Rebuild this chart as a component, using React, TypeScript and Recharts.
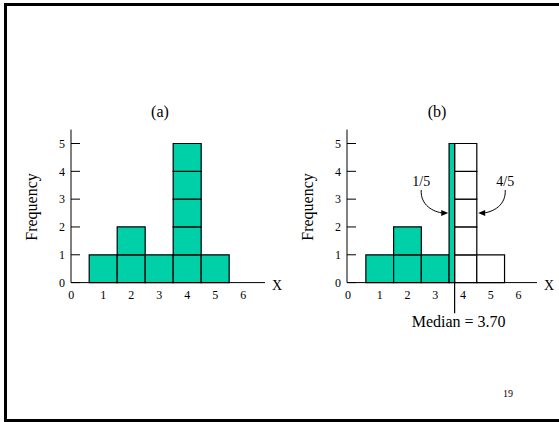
import React from 'react';
import { ComposedChart, XAxis, YAxis, ReferenceArea, ReferenceLine, ReferenceDot } from 'recharts';

const FONT = '"Liberation Serif", "Times New Roman", Times, serif';
const GREEN = '#00d0a8';

// (a) frequency histogram: class edges and counts
const binsA = [0.5, 1.5, 2.5, 3.5, 4.5, 5.5];
const countsA = [1, 2, 1, 5, 1];
const shadedA = [true, true, true, true, true];

// (b) same data, median class split at the median
const binsB = [0.5, 1.5, 2.5, 3.5, 3.7, 4.5, 5.5];
const countsB = [1, 2, 1, 5, 5, 1];
const shadedB = [true, true, true, true, false, false];

const xTicks = [0, 1, 2, 3, 4, 5, 6];
const yTicks = [0, 1, 2, 3, 4, 5];
const median = 3.7;
const medianText = 'Median = 3.70';
const splitLabels = ['1/5', '4/5'];

type Cell = { x1: number; x2: number; y1: number; y2: number; fill: string };

// every class becomes a stack of unit squares (thin slivers stay one block)
const buildCells = (edges: number[], counts: number[], shaded: boolean[]): Cell[] => {
  const out: Cell[] = [];
  counts.forEach((c, i) => {
    const x1 = edges[i];
    const x2 = edges[i + 1];
    const fill = shaded[i] ? GREEN : '#fff';
    if (x2 - x1 < 0.5) {
      out.push({ x1, x2, y1: 0, y2: c, fill });
    } else {
      for (let k = 0; k < c; k++) out.push({ x1, x2, y1: k, y2: k + 1, fill });
    }
  });
  return out;
};

const cellsA = buildCells(binsA, countsA, shadedA);
const cellsB = buildCells(binsB, countsB, shadedB);

const XTick = (props: any) => {
  const { x, y, payload } = props;
  // the zero sits a little left, at the corner
  const nx = payload.value === 0 ? x - 4 : x;
  return (
    <text x={nx} y={y} dy="0.71em" textAnchor="middle" fontSize={12} fontFamily={FONT} fill="#000">
      {payload.value}
    </text>
  );
};

const YTick = (props: any) => {
  const { x, y, payload } = props;
  return (
    <text x={x} y={y} dy="0.355em" textAnchor="end" fontSize={12} fontFamily={FONT} fill="#000">
      {payload.value}
    </text>
  );
};

const Arrow = (props: any) => {
  const { cx, cy, side, text } = props;
  const s = side;
  return (
    <g>
      <path
        d={`M ${cx + s * 27} ${cy - 23} C ${cx + s * 28} ${cy - 8} ${cx + s * 15} ${cy - 1} ${cx + s * 5} ${cy}`}
        fill="none"
        stroke="#000"
        strokeWidth={1}
      />
      <polygon
        points={`${cx},${cy} ${cx + s * 7},${cy - 3} ${cx + s * 7},${cy + 3}`}
        fill="#000"
      />
      <text x={cx + s * 27} y={cy - 27} textAnchor="middle" fontSize={14} fontFamily={FONT} fill="#000">
        {text}
      </text>
    </g>
  );
};

const Hist = ({ cells, domain, margin, width, split }: any) => (
  <ComposedChart width={width} height={340} margin={margin} style={{ fontFamily: FONT }}>
    <XAxis
      type="number"
      dataKey="x"
      domain={domain}
      ticks={xTicks}
      allowDataOverflow
      tickLine={false}
      axisLine={{ stroke: '#000' }}
      tick={<XTick />}
      height={30}
      label={{ value: 'X', position: 'right', offset: 7, fontSize: 14, fontFamily: FONT, fill: '#000', dy: -13 }}
    />
    <YAxis
      type="number"
      domain={[0, 5.5]}
      ticks={yTicks}
      allowDataOverflow
      width={30}
      tickSize={-9}
      tickMargin={15}
      axisLine={{ stroke: '#000' }}
      tickLine={{ stroke: '#000' }}
      tick={<YTick />}
    />
    {cells.map((c: Cell, i: number) => (
      <ReferenceArea
        key={i}
        x1={c.x1}
        x2={c.x2}
        y1={c.y1}
        y2={c.y2}
        fill={c.fill}
        fillOpacity={1}
        stroke="#000"
        strokeWidth={1.2}
        ifOverflow="visible"
      />
    ))}
    {split && (
      <ReferenceLine
        segment={[{ x: median, y: 5 }, { x: median, y: -1.1 }]}
        stroke="#000"
        strokeWidth={1.2}
        ifOverflow="visible"
      />
    )}
    {split && (
      <ReferenceDot
        x={median}
        y={-1.1}
        r={0}
        ifOverflow="visible"
        shape={(p: any) => (
          <text x={p.cx + 4} y={p.cy + 14} textAnchor="middle" fontSize={16} fontFamily={FONT} fill="#000">
            {medianText}
          </text>
        )}
      />
    )}
    {split && (
      <ReferenceDot
        x={binsB[3] - 0.03}
        y={2.5}
        r={0}
        ifOverflow="visible"
        shape={(p: any) => <Arrow cx={p.cx} cy={p.cy} side={-1} text={splitLabels[0]} />}
      />
    )}
    {split && (
      <ReferenceDot
        x={binsB[5] + 0.05}
        y={2.5}
        r={0}
        ifOverflow="visible"
        shape={(p: any) => <Arrow cx={p.cx} cy={p.cy} side={1} text={splitLabels[1]} />}
      />
    )}
  </ComposedChart>
);

export default function App() {
  return (
    <div
      style={{
        position: 'fixed',
        left: 0,
        top: 0,
        width: 559,
        height: 422,
        overflow: 'hidden',
        background: '#fff',
        fontFamily: FONT,
      }}
    >
      <div
        style={{
          position: 'absolute',
          left: 4,
          top: 3,
          width: 570,
          height: 419,
          boxSizing: 'border-box',
          borderLeft: '3px solid #000',
          borderTop: '3px solid #000',
          borderBottom: '3px solid #000',
        }}
      />
      <div style={{ position: 'absolute', left: 0, top: 0 }}>
        <Hist cells={cellsA} domain={[-0.15, 6.78]} width={290} margin={{ top: 129.6, left: 41, right: 25, bottom: 27.4 }} />
      </div>
      <div style={{ position: 'absolute', left: 276, top: 0 }}>
        <Hist cells={cellsB} domain={[-0.18, 6.67]} width={280} margin={{ top: 129.6, left: 41, right: 19, bottom: 27.4 }} split />
      </div>
      <svg width={559} height={422} style={{ position: 'absolute', left: 0, top: 0, pointerEvents: 'none' }}>
        <text x={160} y={117} textAnchor="middle" fontSize={16} fontFamily={FONT} fill="#000">(a)</text>
        <text x={437} y={117} textAnchor="middle" fontSize={16} fontFamily={FONT} fill="#000">(b)</text>
        <text transform="translate(37,207) rotate(-90)" textAnchor="middle" fontSize={16} fontFamily={FONT} fill="#000">Frequency</text>
        <text transform="translate(313,207) rotate(-90)" textAnchor="middle" fontSize={16} fontFamily={FONT} fill="#000">Frequency</text>
        <text x={508} y={397} textAnchor="middle" fontSize={10} fontFamily={FONT} fill="#000">19</text>
      </svg>
    </div>
  );
}
